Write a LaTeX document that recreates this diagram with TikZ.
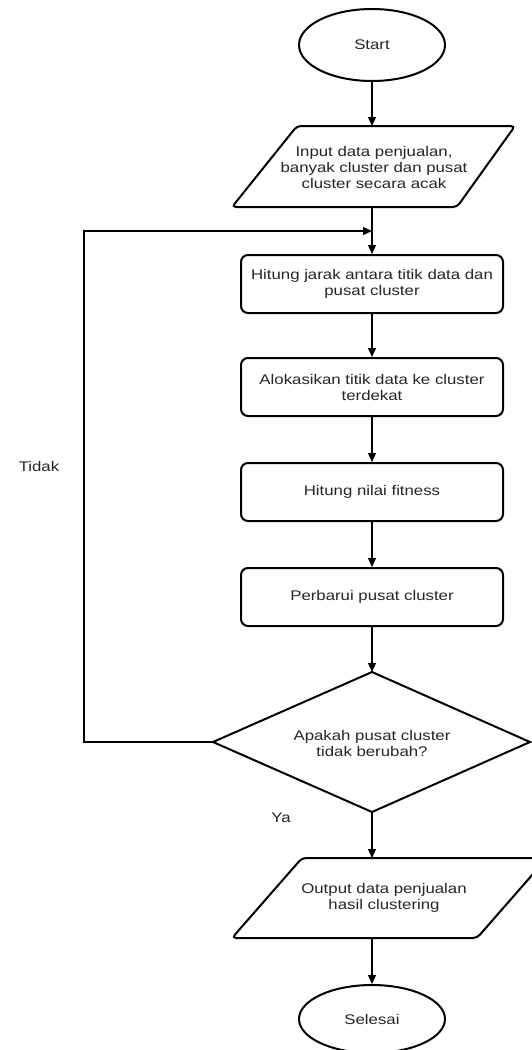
\documentclass[tikz,border=0pt]{standalone}
\usepackage{fontspec}
\setmainfont{Liberation Sans}[FakeStretch=1.2]
\usetikzlibrary{shapes.geometric,arrows.meta}
\begin{document}
\begin{tikzpicture}[x=1pt,y=-1pt,
  every node/.style={font=\fontsize{14}{16}\selectfont, text=black!85},
  shapeline/.style={draw=black, line width=2pt},
  term/.style={shapeline, ellipse, minimum width=146pt, minimum height=72pt, inner sep=0pt},
  proc/.style={shapeline, rectangle, rounded corners=7pt, minimum width=262pt, minimum height=58pt, inner sep=0pt, align=center},
  txt/.style={align=center, inner sep=0pt},
  arr/.style={draw=black, line width=1.3pt, -{Triangle[length=9pt,width=8pt]}},
  plain/.style={draw=black, line width=1.3pt}
]
\useasboundingbox (0,0) rectangle (531,1050);
\fill[white] (0,0) rectangle (531,1050);

% Start
\node[term] (start) at (372,45) {Start};

% Input parallelogram
\draw[shapeline, rounded corners=4pt] (297,126) -- (515,126) -- (457,207) -- (232,207) -- cycle;
\coordinate (intop) at (372,126);
\coordinate (inbot) at (372,207);
\node[txt] (input) at (374,167) {Input data penjualan,\\banyak cluster dan pusat\\cluster secara acak};

% Process boxes
\node[proc] (p1) at (372,284) {Hitung jarak antara titik data dan\\pusat cluster};
\node[proc] (p2) at (372,387) {Alokasikan titik data ke cluster\\terdekat};
\node[proc] (p3) at (372,492) {Hitung nilai fitness};
\node[proc] (p4) at (372,597) {Perbarui pusat cluster};

% Decision diamond
\coordinate (dtop) at (372,672);
\coordinate (dright) at (530,742);
\coordinate (dbot) at (372,812);
\coordinate (dleft) at (213,742);
\draw[shapeline, line join=miter] (dtop) -- (dright) -- (dbot) -- (dleft) -- cycle;
\node[txt] (dec) at (372,743) {Apakah pusat cluster\\tidak berubah?};

% Output parallelogram
\draw[shapeline, rounded corners=4pt] (302,858) -- (547,858) -- (477,938) -- (232,938) -- cycle;
\coordinate (outtop) at (372,858);
\coordinate (outbot) at (372,938);
\node[txt] (output) at (384,898) {Output data penjualan\\hasil clustering};

% End
\node[term, minimum height=68pt] (end) at (372,1019) {Selesai};

% Connectors
\coordinate (merge) at (372,231);
\coordinate (loopbl) at (84,742);
\coordinate (looptl) at (84,231);

\draw[arr] (start.south) -- (intop);
\draw[plain] (inbot) -- (merge);
\draw[arr] (merge) -- (p1.north);
\draw[arr] (p1.south) -- (p2.north);
\draw[arr] (p2.south) -- (p3.north);
\draw[arr] (p3.south) -- (p4.north);
\draw[arr] (p4.south) -- (dtop);
\draw[arr] (dleft) -- (loopbl) -- (looptl) -- (merge);
\draw[arr] (dbot) -- (outtop);
\draw[arr] (outbot) -- (end.north);

% Labels
\node[txt] (tidak) at (39,466) {Tidak};
\node[txt] (ya) at (281,818) {Ya};
\end{tikzpicture}
\end{document}
